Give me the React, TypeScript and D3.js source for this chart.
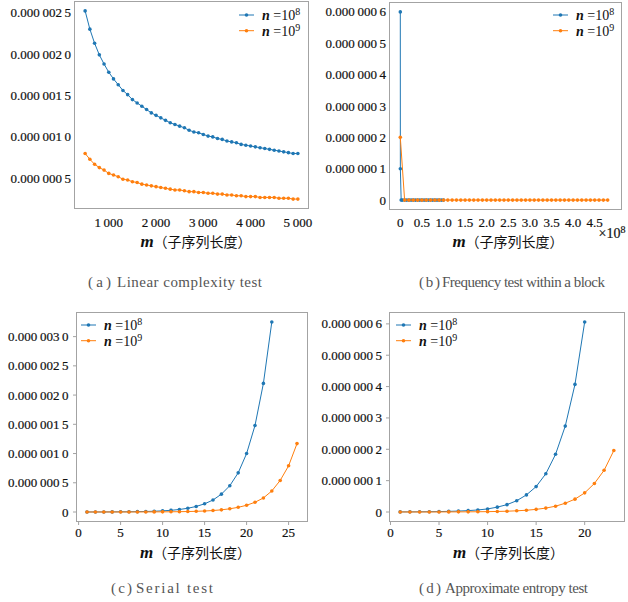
import React from 'react';
import * as d3 from 'd3';

// (a) linear complexity test, values in units of 1e-6
const linM = [500, 600, 700, 800, 900, 1000, 1100, 1200, 1300, 1400, 1500, 1600, 1700, 1800, 1900, 2000,
  2100, 2200, 2300, 2400, 2500, 2600, 2700, 2800, 2900, 3000, 3100, 3200, 3300, 3400, 3500, 3600, 3700,
  3800, 3900, 4000, 4100, 4200, 4300, 4400, 4500, 4600, 4700, 4800, 4900, 5000];
const linN8 = [2.52, 2.30, 2.13, 1.99, 1.88, 1.78, 1.70, 1.63, 1.56, 1.51, 1.45, 1.41, 1.37, 1.33, 1.29, 1.26,
  1.23, 1.20, 1.17, 1.15, 1.13, 1.11, 1.08, 1.06, 1.05, 1.03, 1.01, 1.00, 0.98, 0.97, 0.95, 0.94, 0.93,
  0.91, 0.90, 0.89, 0.88, 0.87, 0.86, 0.85, 0.84, 0.83, 0.82, 0.81, 0.80, 0.80];
const linN9 = [0.80, 0.73, 0.67, 0.63, 0.60, 0.56, 0.54, 0.52, 0.49, 0.48, 0.46, 0.45, 0.43, 0.42, 0.41, 0.40,
  0.39, 0.38, 0.37, 0.36, 0.36, 0.35, 0.34, 0.34, 0.33, 0.33, 0.32, 0.32, 0.31, 0.31, 0.30, 0.30, 0.29,
  0.29, 0.28, 0.28, 0.28, 0.27, 0.27, 0.27, 0.27, 0.26, 0.26, 0.26, 0.25, 0.25];

// (b) frequency test within a block, m in units of 1e8
const blkM8 = [0, 0.001, 0.02, 0.05, 0.10, 0.15, 0.20, 0.25, 0.30, 0.35, 0.40, 0.45, 0.50, 0.55, 0.60, 0.65,
  0.70, 0.75, 0.80, 0.85, 0.90, 0.95, 1.00];
const blkN8 = [0.6, 0.1, 0, 0, 0, 0, 0, 0, 0, 0, 0, 0, 0, 0, 0, 0, 0, 0, 0, 0, 0, 0, 0];
const blkM9 = [0, 0.1, 0.2, 0.3, 0.4, 0.5, 0.6, 0.7, 0.8, 0.9, 1.0, 1.1, 1.2, 1.3, 1.4, 1.5, 1.6, 1.7, 1.8,
  1.9, 2.0, 2.1, 2.2, 2.3, 2.4, 2.5, 2.6, 2.7, 2.8, 2.9, 3.0, 3.1, 3.2, 3.3, 3.4, 3.5, 3.6, 3.7, 3.8, 3.9,
  4.0, 4.1, 4.2, 4.3, 4.4, 4.5, 4.6, 4.7, 4.8];
const blkN9 = [0.2, 0, 0, 0, 0, 0, 0, 0, 0, 0, 0, 0, 0, 0, 0, 0, 0, 0, 0, 0, 0, 0, 0, 0, 0, 0, 0, 0, 0, 0,
  0, 0, 0, 0, 0, 0, 0, 0, 0, 0, 0, 0, 0, 0, 0, 0, 0, 0, 0];

// (c) serial test
const serM8 = [1, 2, 3, 4, 5, 6, 7, 8, 9, 10, 11, 12, 13, 14, 15, 16, 17, 18, 19, 20, 21, 22, 23];
const serN8 = [0.0005, 0.0008, 0.001, 0.002, 0.003, 0.004, 0.006, 0.009, 0.013, 0.02, 0.029, 0.043, 0.064,
  0.095, 0.14, 0.205, 0.305, 0.45, 0.67, 1.0, 1.48, 2.2, 3.25];
const serM9 = [1, 2, 3, 4, 5, 6, 7, 8, 9, 10, 11, 12, 13, 14, 15, 16, 17, 18, 19, 20, 21, 22, 23, 24, 25, 26];
const serN9 = [0.0001, 0.0001, 0.0002, 0.0003, 0.0004, 0.0005, 0.0008, 0.0011, 0.0017, 0.0025, 0.0037, 0.0055,
  0.008, 0.012, 0.017, 0.025, 0.037, 0.055, 0.08, 0.115, 0.167, 0.24, 0.36, 0.54, 0.79, 1.17];

// (d) approximate entropy test
const apeM8 = [1, 2, 3, 4, 5, 6, 7, 8, 9, 10, 11, 12, 13, 14, 15, 16, 17, 18, 19, 20];
const apeN8 = [0.0003, 0.0004, 0.0006, 0.0009, 0.0013, 0.002, 0.003, 0.0044, 0.0065, 0.0098, 0.0155, 0.0235,
  0.036, 0.0545, 0.081, 0.122, 0.184, 0.274, 0.407, 0.606];
const apeM9 = [1, 2, 3, 4, 5, 6, 7, 8, 9, 10, 11, 12, 13, 14, 15, 16, 17, 18, 19, 20, 21, 22, 23];
const apeN9 = [0.0001, 0.0001, 0.0001, 0.0001, 0.0002, 0.0003, 0.0004, 0.0005, 0.0008, 0.0011, 0.0017, 0.0025,
  0.0038, 0.0056, 0.0084, 0.0125, 0.0185, 0.028, 0.041, 0.061, 0.091, 0.133, 0.196];

// tick values
const linYTicks = [0.5, 1.0, 1.5, 2.0, 2.5];
const linXTicks = [1000, 2000, 3000, 4000, 5000];
const smallYTicks = [0, 0.1, 0.2, 0.3, 0.4, 0.5, 0.6];
const blkXTicks = [0, 0.5, 1.0, 1.5, 2.0, 2.5, 3.0, 3.5, 4.0, 4.5];
const serYTicks = [0, 0.5, 1.0, 1.5, 2.0, 2.5, 3.0];
const serXTicks = [0, 5, 10, 15, 20, 25];
const apeXTicks = [0, 5, 10, 15, 20];

const legendExp = ['8', '9'];
const captionTags = ['(a)', '(b)', '(c)', '(d)'];
const captions = ['Linear complexity test', 'Frequency test within a block', 'Serial test', 'Approximate entropy test'];

const BLUE = '#1f77b4';
const ORANGE = '#ff7f0e';
const SERIF = '"Liberation Serif", "DejaVu Serif", serif';
const CJK = '"Noto Sans CJK SC", sans-serif';
const THIN = '\u2009';

const fmtSmall = (v: number) => {
  if (v === 0) return '0';
  const frac = (v * 1e-6).toFixed(7).slice(2);
  return '0.' + frac.slice(0, 3) + THIN + frac.slice(3, 6) + THIN + frac.slice(6);
};
const fmtThousand = (v: number) => {
  const s = String(v);
  return s.slice(0, s.length - 3) + THIN + s.slice(s.length - 3);
};
const fmtBlock = (v: number) => (v === 0 ? '0' : v.toFixed(1));
const fmtInt = (v: number) => String(v);

type Series = { xs: number[]; ys: number[]; color: string };
type PanelProps = {
  box: { l: number; r: number; t: number; b: number };
  xDomain: [number, number];
  yDomain: [number, number];
  xTicks: number[];
  yTicks: number[];
  xFmt: (v: number) => string;
  series: Series[];
  tickLen: number;
  yGap: number;
  xDy: number;
  legend: { x: number; y: number };
  label: { x: number; y: number };
  caption: { x: number; tagW: number; x2: number; w: number; y: number; idx: number };
  offset?: boolean;
};

const tickText = { fontFamily: SERIF, fontSize: 13, fill: '#111', stroke: '#111', strokeWidth: 0.2 };

function Panel(p: PanelProps) {
  const { box } = p;
  const x = d3.scaleLinear().domain(p.xDomain).range([box.l, box.r]);
  const y = d3.scaleLinear().domain(p.yDomain).range([box.b, box.t]);
  const line = d3.line<[number, number]>().x(d => x(d[0])).y(d => y(d[1]));
  const c = p.caption;

  return (
    <g>
      <rect x={box.l} y={box.t} width={box.r - box.l} height={box.b - box.t} fill="none" stroke="#a3a3a3" strokeWidth={1} />
      {p.yTicks.map(t => (
        <g key={'y' + t}>
          {p.tickLen > 0 && <line x1={box.l - p.tickLen} x2={box.l} y1={y(t)} y2={y(t)} stroke="#a3a3a3" />}
          <text x={box.l - p.yGap} y={y(t)} dy="0.35em" textAnchor="end" {...tickText}>
            {fmtSmall(t)}
          </text>
        </g>
      ))}
      {p.xTicks.map(t => (
        <g key={'x' + t}>
          {p.tickLen > 0 && <line x1={x(t)} x2={x(t)} y1={box.b} y2={box.b + p.tickLen} stroke="#a3a3a3" />}
          <text x={x(t)} y={box.b + p.xDy} dy="0.35em" textAnchor="middle" {...tickText}>
            {p.xFmt(t)}
          </text>
        </g>
      ))}
      {p.series.map((s, i) => {
        const pts = s.xs.map((v, j) => [v, s.ys[j]] as [number, number]);
        return (
          <g key={'s' + i}>
            <path d={line(pts) || ''} fill="none" stroke={s.color} strokeWidth={1} />
            {pts.map((d, j) => (
              <circle key={j} cx={x(d[0])} cy={y(d[1])} r={1.8} fill={s.color} />
            ))}
          </g>
        );
      })}
      {p.series.map((s, i) => {
        const ly = p.legend.y + i * 15.7;
        return (
          <g key={'l' + i}>
            <line x1={p.legend.x} x2={p.legend.x + 15} y1={ly} y2={ly} stroke={s.color} strokeWidth={1} />
            <circle cx={p.legend.x + 7.5} cy={ly} r={1.8} fill={s.color} />
            <text x={p.legend.x + 23} y={ly} dy="0.35em" fontFamily={SERIF} fontSize={14} fill="#111">
              <tspan fontStyle="italic" fontWeight="bold">n</tspan>
              <tspan> =10</tspan>
              <tspan dy={-5} fontSize={10}>{legendExp[i]}</tspan>
            </text>
          </g>
        );
      })}
      {p.offset && (
        <text x={box.r - 23} y={box.b + 24} dy="0.35em" {...tickText} fontSize={14}>
          <tspan>×10</tspan>
          <tspan dy={-5} fontSize={10}>8</tspan>
        </text>
      )}
      <text x={p.label.x} y={p.label.y} dy="0.35em" textAnchor="middle" fill="#111">
        <tspan fontFamily={SERIF} fontStyle="italic" fontWeight="bold" fontSize={17}>m</tspan>
        <tspan fontFamily={CJK} fontSize={14}>（子序列长度）</tspan>
      </text>
      <text x={c.x} y={c.y} dy="0.35em" textLength={c.tagW} lengthAdjust="spacing"
        fontFamily={SERIF} fontSize={15} fill="#555">
        {captionTags[c.idx]}
      </text>
      <text x={c.x2} y={c.y} dy="0.35em" textLength={c.w} lengthAdjust="spacing"
        fontFamily={SERIF} fontSize={15} fill="#555">
        {captions[c.idx]}
      </text>
    </g>
  );
}

export default function App() {
  return (
    <svg width={628} height={602} style={{ position: 'absolute', left: 0, top: 0, background: '#fff' }}>
      <Panel
        box={{ l: 74.5, r: 308.5, t: 1.5, b: 208.5 }}
        xDomain={[275, 5225]}
        yDomain={[0.1365, 2.6335]}
        xTicks={linXTicks}
        yTicks={linYTicks}
        xFmt={fmtThousand}
        series={[{ xs: linM, ys: linN8, color: BLUE }, { xs: linM, ys: linN9, color: ORANGE }]}
        tickLen={0}
        yGap={3.5}
        xDy={13.5}
        legend={{ x: 239, y: 15 }}
        label={{ x: 196, y: 241 }}
        caption={{ x: 88, tagW: 23, x2: 117, w: 145, y: 282, idx: 0 }}
      />
      <Panel
        box={{ l: 389.5, r: 621.5, t: 2.5, b: 209.5 }}
        xDomain={[-0.25, 5.12]}
        yDomain={[-0.03, 0.63]}
        xTicks={blkXTicks}
        yTicks={smallYTicks}
        xFmt={fmtBlock}
        series={[{ xs: blkM8, ys: blkN8, color: BLUE }, { xs: blkM9, ys: blkN9, color: ORANGE }]}
        tickLen={0}
        yGap={3.5}
        xDy={12.5}
        legend={{ x: 553, y: 15 }}
        label={{ x: 508, y: 241 }}
        caption={{ x: 419, tagW: 21, x2: 442, w: 163, y: 282, idx: 1 }}
        offset
      />
      <Panel
        box={{ l: 76.5, r: 307.5, t: 312.5, b: 521.5 }}
        xDomain={[-0.25, 27.25]}
        yDomain={[-0.1625, 3.4125]}
        xTicks={serXTicks}
        yTicks={serYTicks}
        xFmt={fmtInt}
        series={[{ xs: serM8, ys: serN8, color: BLUE }, { xs: serM9, ys: serN9, color: ORANGE }]}
        tickLen={3.5}
        yGap={8}
        xDy={10.5}
        legend={{ x: 81, y: 325 }}
        label={{ x: 195.5, y: 552 }}
        caption={{ x: 111, tagW: 21, x2: 136, w: 77, y: 588, idx: 2 }}
      />
      <Panel
        box={{ l: 389.5, r: 624.5, t: 312.5, b: 521.5 }}
        xDomain={[-0.1, 24.1]}
        yDomain={[-0.0303, 0.6363]}
        xTicks={apeXTicks}
        yTicks={smallYTicks}
        xFmt={fmtInt}
        series={[{ xs: apeM8, ys: apeN8, color: BLUE }, { xs: apeM9, ys: apeN9, color: ORANGE }]}
        tickLen={3.5}
        yGap={7.5}
        xDy={10.5}
        legend={{ x: 396, y: 325 }}
        label={{ x: 508.5, y: 552 }}
        caption={{ x: 419, tagW: 22, x2: 445, w: 143, y: 588, idx: 3 }}
      />
    </svg>
  );
}
